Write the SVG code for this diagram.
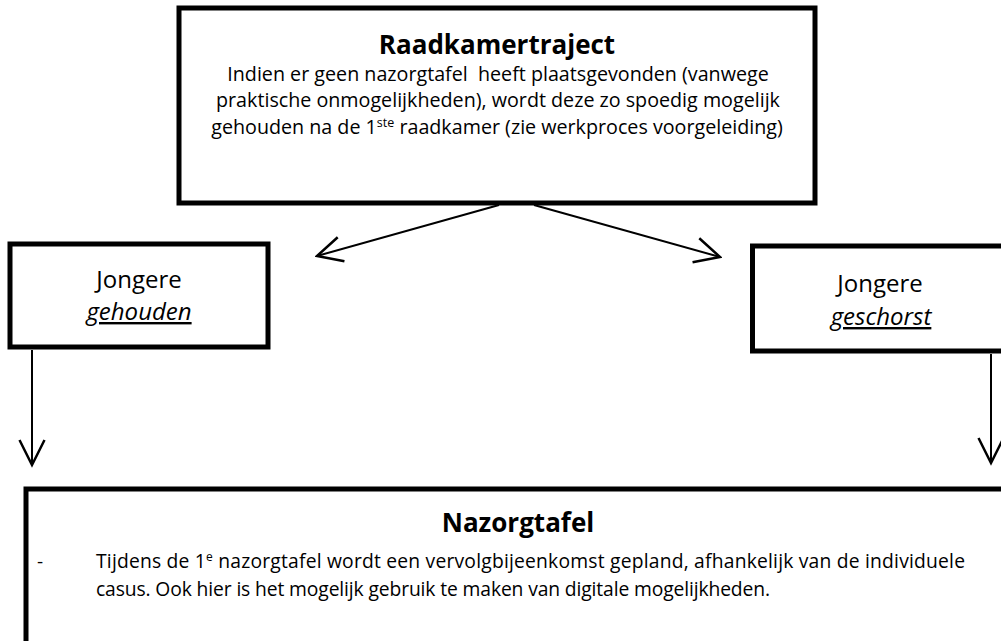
<svg xmlns="http://www.w3.org/2000/svg" width="1001" height="641" viewBox="0 0 1001 641">
<style>
.box{fill:#fff;stroke:#000;stroke-width:5}
.t{font-family:"Open Sans","Liberation Sans",sans-serif;fill:#000}
.title{font-weight:bold;font-size:26px;text-anchor:middle}
.body{font-size:19.7px;text-anchor:middle}
.lbl{font-size:24px;text-anchor:middle}
.em{font-style:italic;text-decoration:underline}
.conn{stroke:#000;stroke-width:2;fill:none}
</style>
<defs>
<marker id="arr" markerUnits="userSpaceOnUse" markerWidth="30" markerHeight="30" viewBox="-22 -12 24 24" refX="0" refY="0" orient="auto">
<path d="M-20,-10 L0,0 L-20,10" fill="none" stroke="#000" stroke-width="2"/>
</marker>
</defs>
<rect width="1001" height="641" fill="#fff"/>
<g id="raadkamertraject">
<rect class="box" x="179" y="8" width="636" height="195"/>
<text class="t title" x="497" y="54">Raadkamertraject</text>
<text class="t body" x="498" y="81" xml:space="preserve">Indien er geen nazorgtafel  heeft plaatsgevonden (vanwege</text>
<text class="t body" x="498" y="107">praktische onmogelijkheden), wordt deze zo spoedig mogelijk</text>
<text class="t body" x="497" y="134">gehouden na de 1<tspan font-size="12.5" dy="-7">ste</tspan><tspan dy="7"> raadkamer (zie werkproces voorgeleiding)</tspan></text>
</g>
<g id="gehouden">
<rect class="box" x="10" y="244" width="258" height="103"/>
<text class="t lbl" x="139" y="288">Jongere</text>
<text class="t lbl em" x="139" y="320">gehouden</text>
</g>
<g id="geschorst">
<rect class="box" x="752.5" y="246" width="270" height="105"/>
<text class="t lbl" x="880" y="292">Jongere</text>
<text class="t lbl em" x="881" y="325">geschorst</text>
</g>
<g id="nazorgtafel">
<rect class="box" x="26" y="489" width="990" height="160"/>
<text class="t title" x="518" y="532">Nazorgtafel</text>
<text class="t" x="37" y="568" font-size="19">-</text>
<text class="t" x="96" y="568" font-size="19.3" textLength="869" lengthAdjust="spacing">Tijdens de 1<tspan font-size="12" dy="-7">e</tspan><tspan dy="7"> nazorgtafel wordt een vervolgbijeenkomst gepland, afhankelijk van de individuele</tspan></text>
<text class="t" x="96" y="596" font-size="19.3" textLength="674" lengthAdjust="spacing">casus. Ook hier is het mogelijk gebruik te maken van digitale mogelijkheden.</text>
</g>
<g id="connectors">
<line class="conn" x1="499" y1="205" x2="317" y2="256" marker-end="url(#arr)"/>
<line class="conn" x1="534" y1="205" x2="720" y2="257" marker-end="url(#arr)"/>
<line class="conn" x1="32" y1="350" x2="32" y2="465" marker-end="url(#arr)"/>
<line class="conn" x1="991" y1="354" x2="991" y2="463" marker-end="url(#arr)"/>
</g>
</svg>
